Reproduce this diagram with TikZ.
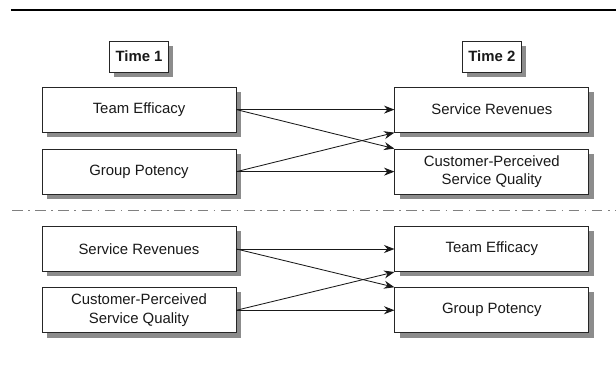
\documentclass[tikz,border=0pt]{standalone}
\usepackage{fontspec}
\setmainfont{Liberation Sans}
\usepackage{tikz}
\usetikzlibrary{positioning, arrows.meta, shadows}

\begin{document}
\begin{tikzpicture}[
    node distance=0.4cm,
    every node/.style={font=\fontsize{10.6}{13.5}\selectfont,align=center,text=black!90},
    box/.style={draw=black!85, fill=white, line width=0.6pt, rectangle, minimum width=4.85cm, minimum height=1.13cm,
        drop shadow={shadow xshift=0.12cm, shadow yshift=-0.12cm, fill=black!45, opacity=1}},
    timebox/.style={box, minimum width=1.475cm, minimum height=0.775cm, inner sep=1pt, font=\fontsize{10.6}{13.5}\selectfont\bfseries},
    arrow/.style={-{Stealth[length=2.6mm, width=2mm]}, line width=0.6pt, black!90}
]
    \useasboundingbox (0,0) rectangle (15.4,-9.15);
    \draw [line width=1.7pt] (0.275,-0.25) -- (15.4,-0.25);

    % Time 1 -> Time 2
    \node (te1) [box] at (3.475,-2.74) {Team Efficacy};
    \node (gp1) [box, below=of te1] {Group Potency};
    \node (sr2) [box, right=3.95cm of te1] {Service Revenues};
    \node (cq2) [box, below=of sr2] {Customer-Perceived\\Service Quality};
    \node (t1) [timebox, above=0.35cm of te1] {Time 1};
    \node (t2) [timebox, above=0.35cm of sr2] {Time 2};

    \draw [arrow] (te1) -- (sr2);
    \draw [arrow] (gp1) -- (cq2);
    \draw [arrow] (te1.east) -- (cq2.north west);
    \draw [arrow] (gp1.east) -- (sr2.south west);

    \draw [black!50, line width=0.7pt, dash pattern=on 7.5pt off 3.9pt on 1.2pt off 3.9pt] (0.3,-5.25) -- (15.4,-5.25);

    % reversed
    \node (sr3) [box] at (3.475,-6.225) {Service Revenues};
    \node (cq3) [box, below=0.38cm of sr3] {Customer-Perceived\\Service Quality};
    \node (te4) [box, right=3.95cm of sr3] {Team Efficacy};
    \node (gp4) [box, below=0.38cm of te4] {Group Potency};

    \draw [arrow] (sr3) -- (te4);
    \draw [arrow] (cq3) -- (gp4);
    \draw [arrow] (sr3.east) -- (gp4.north west);
    \draw [arrow] (cq3.east) -- (te4.south west);
\end{tikzpicture}
\end{document}
